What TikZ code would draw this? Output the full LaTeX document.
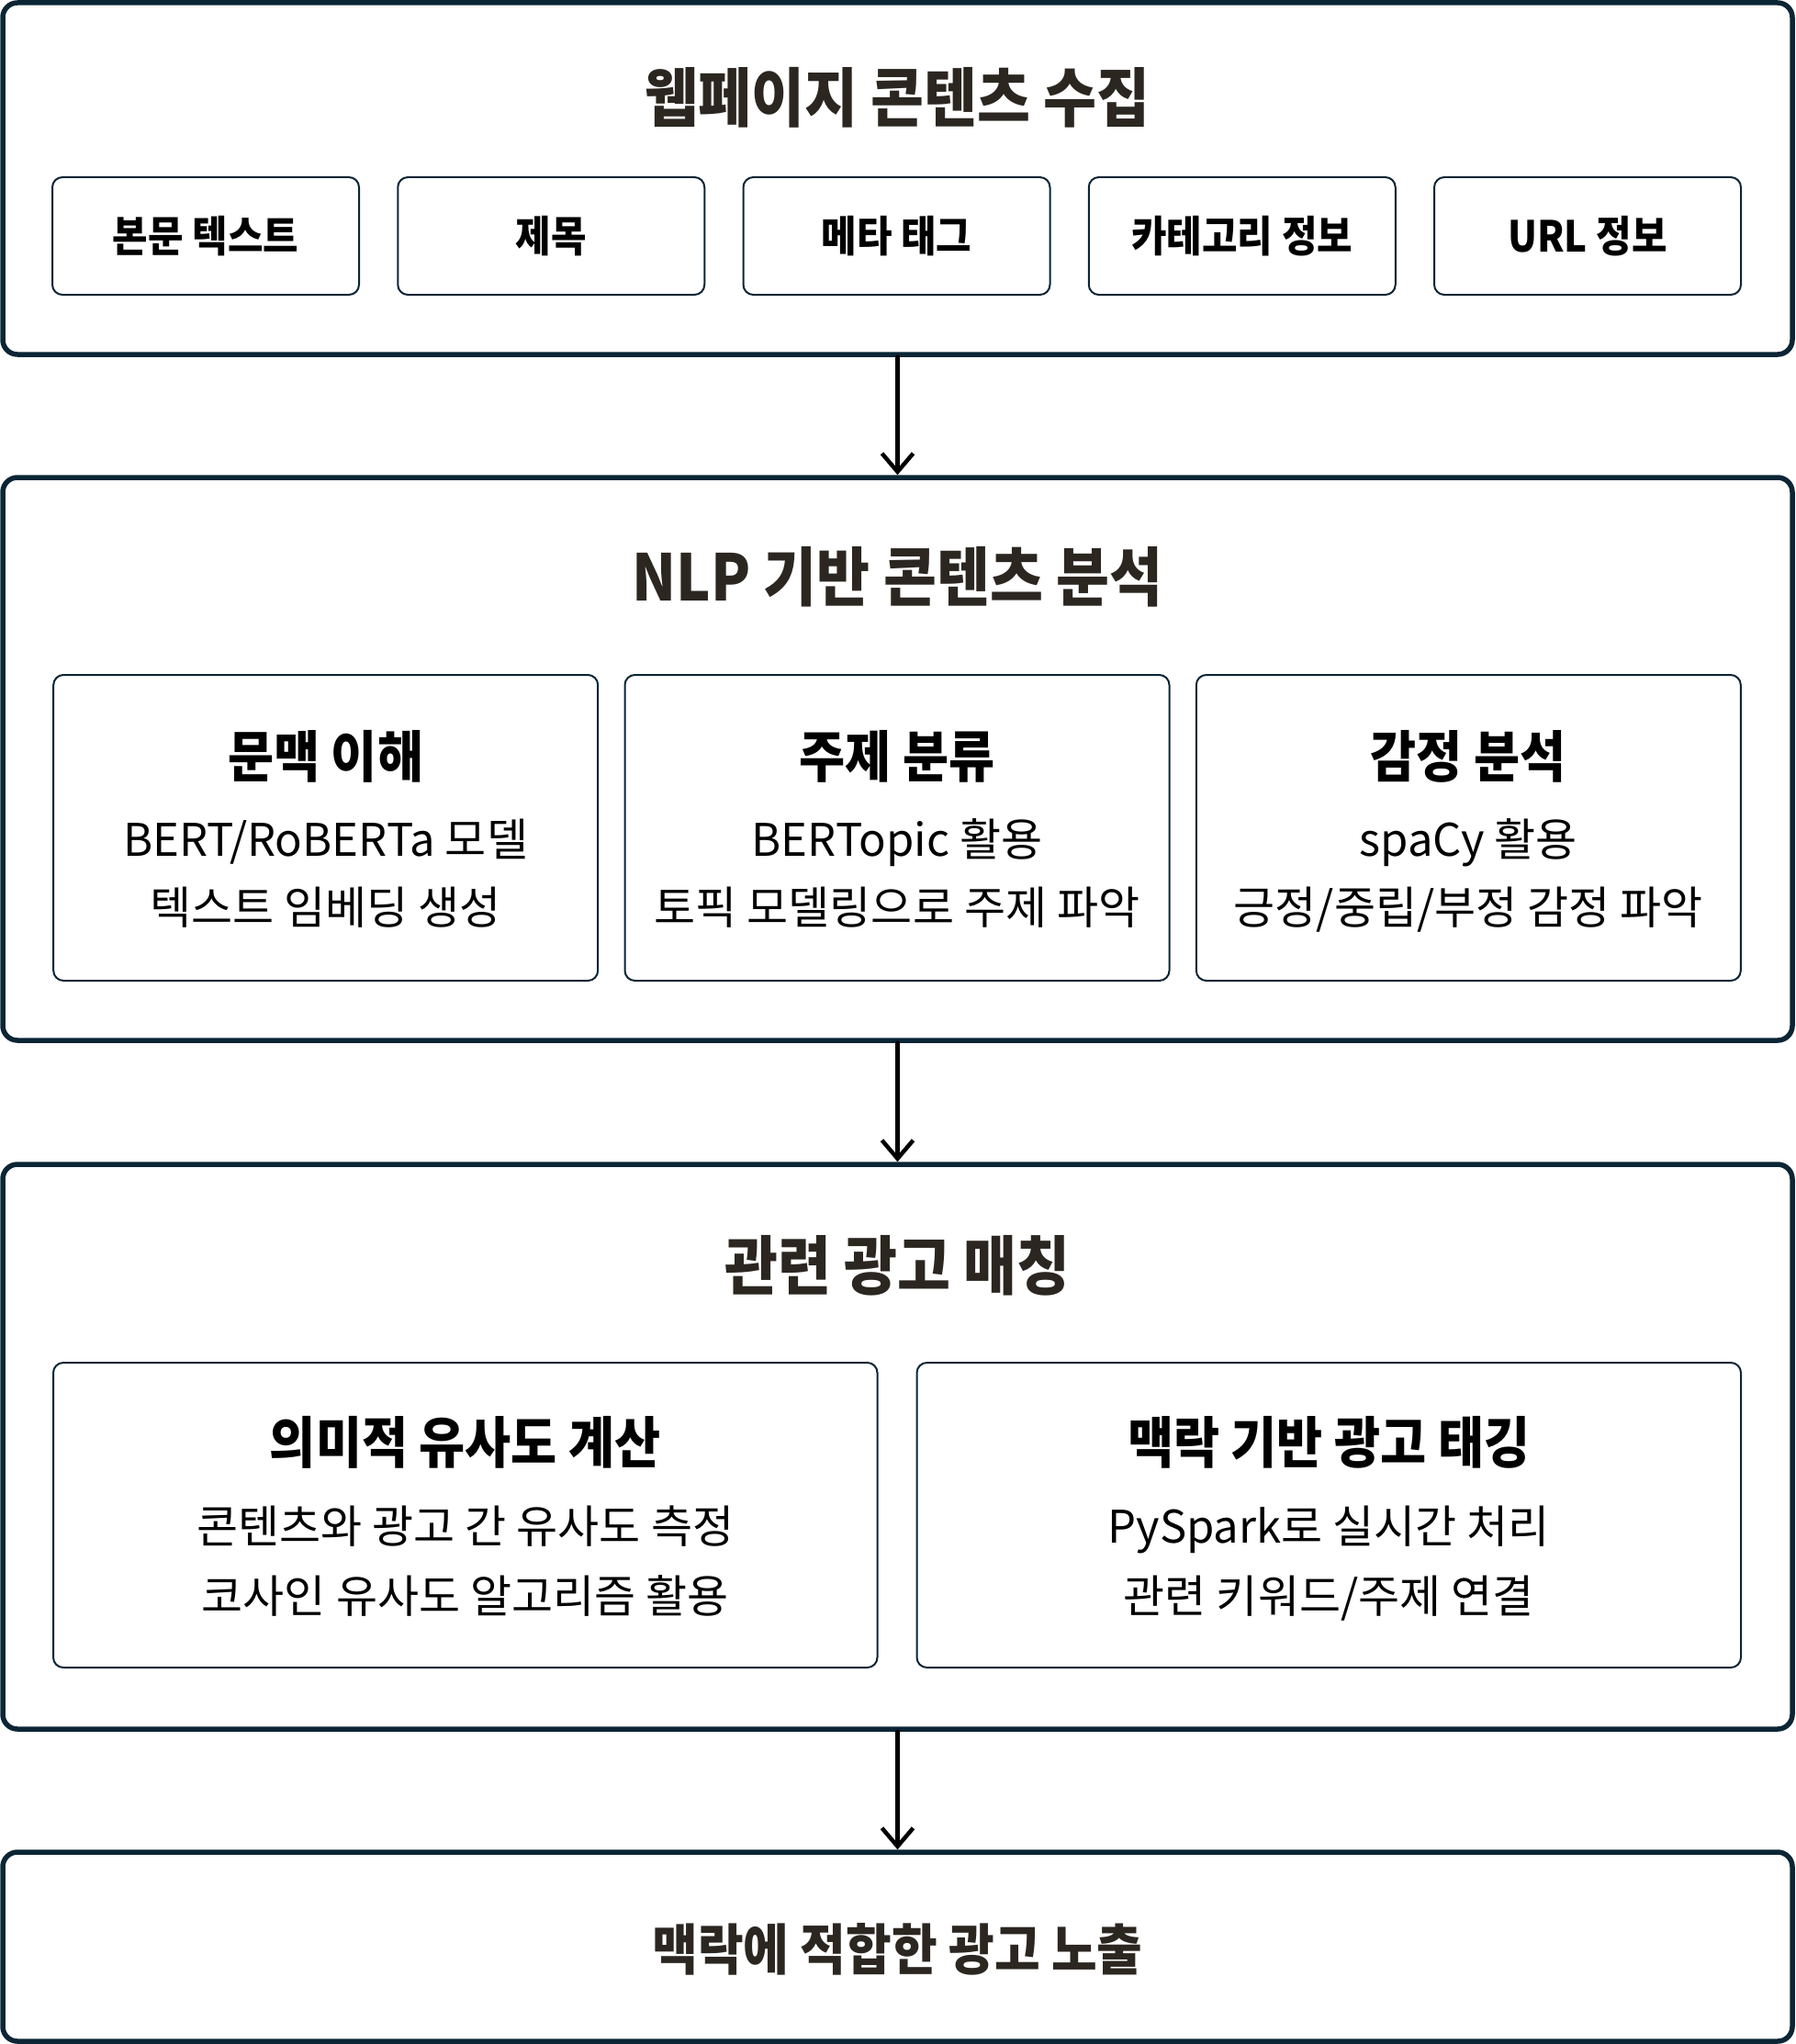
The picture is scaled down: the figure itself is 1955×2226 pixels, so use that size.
\documentclass[tikz,border=0pt]{standalone}
\usepackage{fontspec}
\setmainfont{Noto Sans CJK KR}
\newfontfamily\narrowfont{Noto Sans CJK KR}[FakeStretch=0.9]
\usetikzlibrary{arrows.meta}
\definecolor{framenavy}{HTML}{0B2535}
\definecolor{headbrown}{HTML}{2B2620}

\begin{document}
\begin{tikzpicture}[x=1pt, y=-1pt,
  stage/.style={draw=framenavy, line width=5.5pt, rounded corners=16pt, minimum width=1949pt, inner sep=0pt},
  part/.style={draw=framenavy, line width=2pt, rounded corners=11pt, inner sep=0pt},
  headline/.style={text=headbrown, inner sep=0pt, text height=54pt, text depth=0pt, font=\narrowfont\bfseries\fontsize{70}{78}\selectfont},
  chip/.style={inner sep=0pt, text height=36pt, text depth=0pt, font=\narrowfont\bfseries\fontsize{46.5}{54}\selectfont},
  parthead/.style={inner sep=0pt, text height=47pt, text depth=0pt, font=\narrowfont\bfseries\fontsize{60.5}{68}\selectfont},
  body/.style={inner sep=0pt, text height=38pt, text depth=0pt, font=\fontsize{49}{55}\selectfont},
  flow/.style={-{Straight Barb[length=20pt, width=34pt]}, line width=4.5pt, line cap=round}]
  \filldraw[fill=white, draw=none] (0,0) rectangle (1955,2226);
  \useasboundingbox (0,0) rectangle (1955,2226);
  % stages
  \node[stage, minimum height=383pt] (collect) at (977.5,194.5) {};
  \node[stage, minimum height=613pt] (analyze) at (977.5,826.5) {};
  \node[stage, minimum height=615pt] (match) at (977.5,1575.5) {};
  \node[stage, minimum height=206pt] (expose) at (977.5,2120) {};
  \node[headline] (collecttitle) at (977.5,106) {웹페이지 콘텐츠 수집};
  \node[headline] (analyzetitle) at (977.5,627.5) {NLP 기반 콘텐츠 분석};
  \node[headline] (matchtitle) at (977.5,1377.5) {관련 광고 매칭};
  \node[headline, font=\narrowfont\bfseries\fontsize{60}{68}\selectfont, text height=46pt] (exposetitle) at (977.5,2122) {맥락에 적합한 광고 노출};
  % collected sources
  \node[part, minimum width=334pt, minimum height=128pt] (body) at (224,257) {};
  \node[part, minimum width=334pt, minimum height=128pt] (title) at (600.25,257) {};
  \node[part, minimum width=334pt, minimum height=128pt] (meta) at (976.5,257) {};
  \node[part, minimum width=334pt, minimum height=128pt] (category) at (1352.75,257) {};
  \node[part, minimum width=334pt, minimum height=128pt] (url) at (1729,257) {};
  \node[chip] (bodytext) at (body) {본문 텍스트};
  \node[chip] (titletext) at (title) {제목};
  \node[chip] (metatext) at (meta) {메타 태그};
  \node[chip] (categorytext) at (category) {카테고리 정보};
  \node[chip] (urltext) at (url) {URL 정보};
  % analysis
  \node[part, minimum width=593pt, minimum height=333pt] (context) at (354.7,901.5) {};
  \node[part, minimum width=593pt, minimum height=333pt] (topic) at (977,901.5) {};
  \node[part, minimum width=593pt, minimum height=333pt] (sentiment) at (1599.3,901.5) {};
  \node[parthead] (contexthead) at (354.7,823) {문맥 이해};
  \node[body] (contextone) at (354.7,913) {BERT/RoBERTa 모델};
  \node[body] (contexttwo) at (354.7,987) {텍스트 임베딩 생성};
  \node[parthead] (topichead) at (977,823) {주제 분류};
  \node[body] (topicone) at (977,913) {BERTopic 활용};
  \node[body] (topictwo) at (977,987) {토픽 모델링으로 주제 파악};
  \node[parthead] (sentimenthead) at (1599.3,823) {감정 분석};
  \node[body] (sentimentone) at (1599.3,913) {spaCy 활용};
  \node[body] (sentimenttwo) at (1599.3,987) {긍정/중립/부정 감정 파악};
  % matching
  \node[part, minimum width=897.5pt, minimum height=332pt] (similarity) at (506.75,1650) {};
  \node[part, minimum width=897.5pt, minimum height=332pt] (tagging) at (1447.25,1650) {};
  \node[parthead] (similarityhead) at (506.75,1570) {의미적 유사도 계산};
  \node[body] (similarityone) at (506.75,1661) {콘텐츠와 광고 간 유사도 측정};
  \node[body] (similaritytwo) at (506.75,1737) {코사인 유사도 알고리즘 활용};
  \node[parthead] (tagginghead) at (1447.25,1570) {맥락 기반 광고 태깅};
  \node[body] (taggingone) at (1447.25,1661) {PySpark로 실시간 처리};
  \node[body] (taggingtwo) at (1447.25,1737) {관련 키워드/주제 연결};
  % flow
  \draw[flow] (collect) -- (analyze);
  \draw[flow] (analyze) -- (match);
  \draw[flow] (match) -- (expose);
\end{tikzpicture}
\end{document}
